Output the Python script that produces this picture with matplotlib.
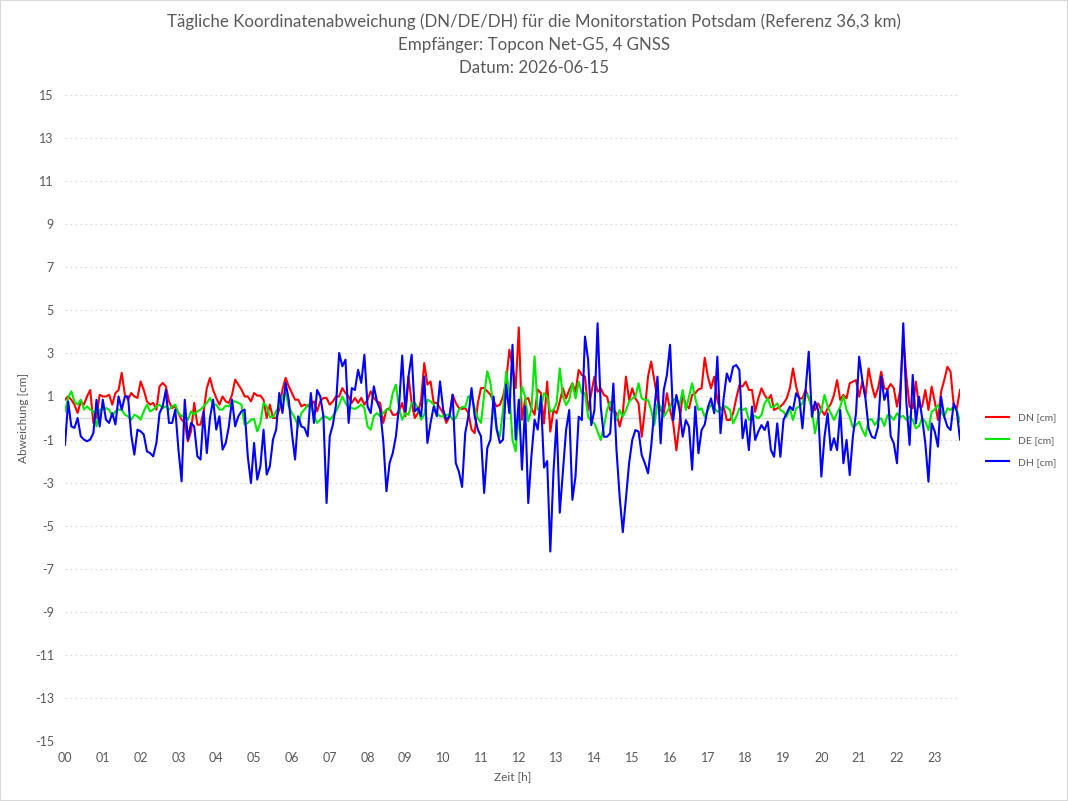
import numpy as np
import matplotlib
matplotlib.use("Agg")
import matplotlib.pyplot as plt
from matplotlib.patches import Rectangle

# daily coordinate deviations, 5-minute epochs starting 00:00 (cm)
dn = [0.85, 1.0, 0.85, 0.62, 0.23, 0.77, 0.62, 1.0, 1.3, -0.23, 0.08, 1.08, 1.0, 1.0, 1.08, 0.62, 1.16, 1.3, 2.1, 1.08,
      0.85, 1.16, 1.0, 0.93, 1.7, 1.3, 0.77, 0.62, 0.7, 0.39, 1.47, 1.63, 1.47, 0.77, 0.46, 0.54, 0.23, -0.08, -0.23, -1.08,
      -0.62, 0.7, -0.31, -0.31, 0.31, 1.39, 1.86, 1.3, 0.93, 0.62,
      1.0, 0.77, 0.7, 1.08, 1.78, 1.55, 1.32, 1.0, 1.0, 0.77, 1.16, 1.04, 1.04, 0.85, 0.0, 0.62, 0.0, 0.0, 0.39, 1.32,
      1.86, 1.47, 1.16, 0.85, 0.85, 0.54, 0.62, 0.54, 0.62, 0.77, 0.31, 0.77, 0.93, 0.93, 0.62, 0.77, 1.0, 1.0, 1.39, 1.16,
      1.0, 0.7, 0.93, 0.7, 0.93, 0.62, 0.85, 1.24, 0.93, 0.77, 0.7,
      -0.23, 0.39, 0.46, 0.15, 0.15, 0.31, 0.7, 0.08, 1.93, 0.7, 0.0, 0.23, 0.85, 2.55, 1.55, 1.7, 0.7, 0.7, 0.46, 0.23,
      -0.23, 0.08, 1.08, 0.7, 0.46, 0.42, 0.46, 0.23, -0.54, -0.7, 0.7, 1.39, 1.39, 1.24, 1.08, 0.77, 0.54, 0.62, 1.0, 1.7,
      3.17, 2.4, 1.39, 4.2, -0.08, 0.85, 0.93, 0.46, 0.15, 1.32, 1.16,
      -0.25, 1.69, -0.63, 0.37, 0.22, 0.76, 1.38, 0.91, 1.3, 1.61, 1.22, 2.23, 2.0, 1.92, 0.37, 1.15, 1.92, 1.22, 1.38, 1.07,
      0.99, 0.37, 0.37, 0.22, -0.4, 0.22, 1.92, 0.84, 1.38, 0.91, 0.68, -0.87, 0.37, 1.92, 2.62, 1.76, 0.84, 0.37, 0.22, 1.15,
      0.37, -0.25, -1.5, -0.25, 1.15, 0.6, 0.45, 1.07, 1.15, 1.33, 1.38,
      2.8, 1.92, 1.38, 1.92, 0.84, 0.37, 0.53, -0.09, -0.09, 0.22, 0.91, 1.53, 1.46, 1.69, 1.3, 1.3, 0.29, 0.91, 1.38, 1.07,
      0.84, 1.07, 0.37, 0.45, 0.53, 0.68, 0.91, 1.38, 2.3, 1.46, 0.91, 0.91, 1.3, 0.91, 0.53, 0.37, 0.68, 0.37, 0.14, 0.45,
      0.65, 1.07, 1.76, 0.84, 1.07, 0.91, 1.61, 1.69, 1.76, 0.99, 1.69,
      0.99, 2.3, 1.53, 0.96, 1.38, 2.15, 1.38, 1.33, 1.58, 1.38, 0.53, 1.3, 3.7, 1.92, 0.53, 0.45, 1.69, 0.53, 0.53, 1.3,
      0.37, 1.46, 0.76, -0.09, 1.22, 1.76, 2.38, 2.15, 0.6, 0.45, 1.3]

de = [0.31, 0.93, 1.24, 0.77, 0.62, 0.85, 0.39, 0.54, 0.39, 0.31, -0.39, 0.39, 0.39, 0.46, 0.39, 0.08, 0.31, 0.39, 0.39, 0.15,
      0.08, -0.08, 0.15, 0.08, -0.08, 0.31, 0.62, 0.31, 0.39, 0.54, 0.62, 0.46, 0.54, 0.39, 0.54, 0.62, 0.23, 0.08, 0.15, -0.08,
      0.31, 0.15, 0.31, 0.39, 0.54, 0.7, 0.93, 0.62, 0.62, 0.39,
      0.39, 0.57, 0.54, 0.77, 0.77, 0.7, 0.62, -0.31, -0.23, -0.08, -0.05, -0.62, -0.23, 0.7, 0.54, 0.05, 0.05, 0.31, 0.54, 1.0,
      1.16, 0.54, 0.23, 0.0, -0.39, 0.23, 0.39, 0.62, 0.62, 0.08, -0.23, -0.08, 0.08, 0.05, -0.08, 0.08, 0.31, 0.62, 1.0, 0.7,
      0.46, 0.46, 0.42, 0.51, 0.62, 0.46, -0.39, -0.54, 0.08, 0.23, 0.08,
      0.23, 0.39, 0.39, 1.16, 1.55, 0.46, -0.08, 0.23, 0.15, 0.7, 0.7, 0.46, -0.08, 0.15, 0.85, 0.77, 0.62, 0.23, 0.08, 0.08,
      0.15, 0.15, -0.08, 0.0, 0.39, 0.51, 0.51, 1.0, 1.0, 0.46, 0.0, -0.23, 1.08, 2.17, 1.63, 0.46, -0.54, -0.85, 0.39, 2.17,
      1.16, -1.0, -1.55, 0.23, 1.47, 1.0, -0.15, 0.39, 2.86, 0.39, 0.46,
      1.15, 0.99, 0.29, 0.37, 0.68, 2.3, 0.99, 0.6, 0.84, 1.61, 0.91, 1.69, 1.15, 1.15, 0.06, -0.17, -0.25, -0.63, -1.02, -0.4,
      0.37, 0.76, 0.37, -0.09, 0.37, 0.06, 0.37, 0.76, 0.91, 0.99, 1.61, 0.91, 0.84, 0.84, 0.37, -0.33, 0.68, 0.53, 0.06, 0.29,
      0.53, 0.84, 0.91, 0.6, 1.3, 0.37, 0.99, 1.61, 0.91, 0.37, 0.45,
      0.06, 0.37, 0.6, 0.45, 0.29, 0.37, 0.57, 0.5, 0.37, -0.25, 0.06, 0.45, 0.37, 0.45, -0.09, 0.06, 0.09, -0.02, 0.14, 0.68,
      0.91, 0.5, 0.53, 0.68, 0.37, 0.29, 0.06, 0.45, -0.09, 0.45, 0.53, 0.68, 1.15, 0.99, 0.37, -0.71, 0.06, 0.37, 1.07, 0.53,
      0.22, -0.09, 0.22, 0.53, 1.02, 0.37, 0.06, -0.43, -0.33, -0.17, -0.56,
      -0.84, -0.09, -0.06, -0.33, -0.09, -0.02, -0.37, 0.14, 0.09, -0.09, 0.22, 0.06, 0.09, -0.09, 0.06, -0.09, -0.48, -0.37, -0.02, -0.17,
      -0.56, 0.29, 0.4, 0.6, 0.29, 0.06, 0.45, 0.37, 0.53, 0.37, -0.17]

dh = [-1.24, 0.77, -0.39, -0.46, 0.0, -0.85, -1.0, -1.08, -1.0, -0.7, 0.85, -0.39, 0.85, -0.08, -0.23, 0.23, -0.3, 1.0, 0.39, 1.0,
      1.0, -0.77, -1.7, -0.54, -0.62, -0.77, -1.55, -1.63, -1.78, -1.16, 0.23, 0.54, 1.3, -0.23, -0.23, 0.39, -1.47, -2.94, 0.85, -1.0,
      -0.23, -0.39, -1.78, -1.93, 0.31, -1.63, 0.0, 0.85, -0.54, 0.08,
      -1.47, -1.16, -0.39, 0.85, -0.39, 0.08, 0.31, 0.39, -1.78, -3.02, -1.16, -2.86, -2.24, -0.54, -2.63, -2.24, -1.0, -0.54, 1.16, 0.23,
      1.63, 0.85, -0.7, -1.93, 0.08, -0.39, -0.46, -0.85, 1.16, -0.23, 1.3, 1.0, 0.08, -3.95, -0.85, -0.31, 0.62, 3.02, 2.4, 2.71,
      -0.23, 1.39, 1.3, 2.24, 1.63, 2.94, 0.54, 0.23, 1.47, 0.77, 0.39,
      -1.08, -3.4, -2.09, -1.63, -0.85, 0.54, 2.9, 0.3, 1.93, 2.94, 0.31, 0.46, 0.08, 1.93, -1.16, -0.23, 0.54, 0.08, 1.7, 0.39,
      -0.08, 0.08, 1.08, -2.09, -2.5, -3.2, -0.7, 0.08, 1.39, 0.08, -0.54, -0.85, -3.48, -1.39, -1.0, 1.0, -0.54, -1.16, -1.0, 1.55,
      0.23, 3.4, -1.0, 0.85, -2.4, 0.54, -3.95, -1.78, -0.08, -0.54, 1.0,
      -2.3, -2.0, -6.2, -2.5, -0.1, -4.4, -2.5, -0.56, 0.37, -3.8, -2.7, 0.06, -0.1, 3.78, 2.7, -0.33, 0.37, 4.4, 0.53, -0.87,
      -0.87, -0.71, 1.6, -1.49, -3.65, -5.3, -3.73, -2.1, -1.02, -0.56, -0.63, -1.72, -2.1, -2.57, -1.33, 0.37, 1.92, -1.18, 1.3, 2.0,
      3.4, -0.1, 1.07, 0.37, -0.87, -0.1, -0.4, -2.4, 0.53, -1.64, -0.56,
      -0.3, 0.5, 0.91, 0.22, 2.85, -0.71, 0.91, 2.07, 1.69, 2.38, 2.46, 2.23, -0.94, -0.09, -1.49, 0.53, -1.02, -0.63, -0.33, -0.56,
      -0.17, -1.49, -1.8, -0.25, -1.8, -0.09, 0.22, 0.53, 0.37, 1.15, 0.91, -0.48, 1.3, 3.08, 0.06, 0.76, 0.37, -2.72, -0.87, 0.22,
      -1.49, -0.94, -1.49, 0.37, -2.1, -1.02, -2.65, -0.87, 0.22, 2.85, 1.76,
      0.91, -0.48, -0.87, -0.94, -0.4, 1.92, 0.84, 1.3, -0.84, -1.18, -2.1, 0.68, 4.4, 0.68, -1.25, 2.0, -0.25, 0.99, -0.02, -1.18,
      -2.96, -0.25, -0.63, -1.33, 0.99, 0.06, -0.4, -0.56, 0.68, 0.3, -1.0]

series = [("DN [cm]", dn, "#FF0000"), ("DE [cm]", de, "#00E800"), ("DH [cm]", dh, "#0000FF")]
hour_labels = ["%02d" % h for h in range(24)]
y_ticks = list(range(-15, 16, 2))

plt.rcParams['font.family'] = ['Lato', 'DejaVu Sans']
grey = "#595959"

fig = plt.figure(figsize=(10.68, 8.01), dpi=100)
ax = fig.add_axes([65 / 1068, 1 - 741 / 801, (960 - 65) / 1068, (741 - 95) / 801])

n_max = max(len(s[1]) for s in series)
for name, vals, col in series:
    t = np.arange(len(vals)) * 5 / 60.0
    ax.plot(t, vals, color=col, lw=1.5, label=name, solid_joinstyle='round')

ax.set_xlim(0, (n_max - 1) * 5 / 60.0)
ax.set_ylim(-15, 15)
ax.set_yticks(y_ticks)
ax.set_yticklabels([str(v) for v in y_ticks])
ax.set_xticks(range(24))
ax.set_xticklabels(hour_labels)
ax.tick_params(length=0, colors=grey, labelsize=9)
ax.tick_params(axis='y', pad=8)
ax.tick_params(axis='x', pad=8)
for v in y_ticks:
    ax.axhline(v, color="#D9D9D9", lw=0.8, ls=(0, (1.5, 3)), zorder=0)
ax.axhline(0, color="#D9D9D9", lw=1.0, zorder=0.5)
for sp in ax.spines.values():
    sp.set_visible(False)

ax.set_xlabel("Zeit [h]", color=grey, fontsize=8.5, labelpad=5)
ax.set_ylabel("Abweichung [cm]", color=grey, fontsize=8.5, labelpad=4)

fig.text(0.5, 1 - 22 / 801,
         "Tägliche Koordinatenabweichung (DN/DE/DH) für die Monitorstation Potsdam (Referenz 36,3 km)",
         ha='center', va='center', color=grey, fontsize=12.2)
fig.text(0.5, 1 - 45 / 801, "Empfänger: Topcon Net-G5, 4 GNSS",
         ha='center', va='center', color=grey, fontsize=12.2)
fig.text(0.5, 1 - 68 / 801, "Datum: 2026-06-15",
         ha='center', va='center', color=grey, fontsize=12.2)

leg = ax.legend(loc='center left', bbox_to_anchor=(977 / 1068, 1 - 440 / 801), bbox_transform=fig.transFigure,
                frameon=False, fontsize=7.5, handlelength=2.2, labelspacing=1.25, handletextpad=0.8)
for txt in leg.get_texts():
    txt.set_color(grey)

fig.patches.append(Rectangle((0, 0), 1, 1, transform=fig.transFigure, fill=False,
                             edgecolor="#D9D9D9", lw=1.5))

fig.savefig("out.png", dpi=100)
